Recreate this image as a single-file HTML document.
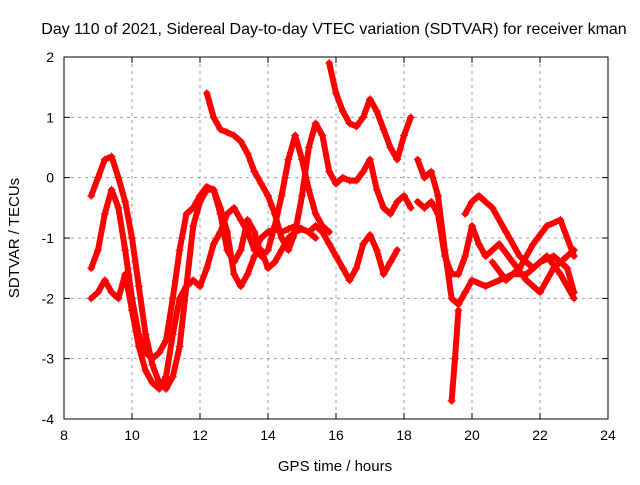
<!DOCTYPE html>
<html><head><meta charset="utf-8"><style>
body{margin:0;background:#fff;width:640px;height:480px;overflow:hidden;font-family:"Liberation Sans",sans-serif}
</style></head><body>
<svg width="640" height="480" style="font-family:'Liberation Sans',sans-serif">
<rect width="640" height="480" fill="#fff"/>
<text x="334" y="34" font-size="16" text-anchor="middle">Day 110 of 2021, Sidereal Day-to-day VTEC variation (SDTVAR) for receiver kman</text>
<text x="335" y="471" font-size="15" text-anchor="middle">GPS time / hours</text>
<text transform="translate(19,238) rotate(-90)" font-size="15" text-anchor="middle">SDTVAR / TECUs</text>
<g id="grid"></g><g id="ticks"></g><g id="series"></g>
<rect x="64" y="57" width="544" height="362" fill="none" stroke="#000" stroke-width="1"/>
</svg>
<script>
const xTicks=[8,10,12,14,16,18,20,22,24];
const yTicks=[-4,-3,-2,-1,0,1,2];
const t1x=[8.8,9.0,9.2,9.4,9.6,9.8,10.0,10.2,10.4,10.6,10.8,11.0,11.2,11.4,11.6,11.8,12.0,12.2,12.4,12.6,12.8,13.0,13.2,13.4,13.6,13.8,14.0,14.2,14.4,14.6,14.8,15.0,15.2,15.4,15.6,15.8];
const t1y=[-0.3,0.0,0.3,0.35,0.0,-0.4,-1.0,-1.8,-2.6,-3.1,-3.4,-3.5,-3.3,-2.8,-1.8,-0.8,-0.4,-0.2,-0.2,-0.6,-1.2,-1.4,-1.2,-0.7,-0.9,-1.3,-1.2,-0.8,-0.3,0.3,0.7,0.3,-0.2,-0.6,-0.8,-0.9];
const t2x=[8.8,9.0,9.2,9.4,9.6,9.8,10.0,10.2,10.4,10.6,10.8,11.0,11.2,11.4,11.6,11.8,12.0,12.2,12.4,12.6,12.8,13.0,13.2,13.4,13.6,13.8,14.0,14.2,14.4,14.6,14.8,15.0,15.2,15.4,15.6,15.8,16.0,16.2,16.4,16.6,16.8,17.0,17.2,17.4,17.6,17.8];
const t2y=[-1.5,-1.2,-0.6,-0.2,-0.5,-1.2,-2.0,-2.6,-2.9,-3.0,-2.9,-2.7,-2.0,-1.2,-0.6,-0.5,-0.3,-0.15,-0.2,-0.5,-0.9,-1.6,-1.8,-1.6,-1.3,-1.2,-1.5,-1.4,-1.2,-1.0,-0.9,-0.85,-0.9,-0.8,-0.9,-1.1,-1.3,-1.5,-1.7,-1.5,-1.1,-0.95,-1.2,-1.6,-1.4,-1.2];
const t3x=[8.8,9.0,9.2,9.4,9.6,9.8,10.0,10.2,10.4,10.6,10.8,11.0,11.2,11.4,11.6,11.8,12.0,12.2,12.4,12.6,12.8,13.0,13.2,13.4,13.6,13.8,14.0,14.2,14.4,14.6,14.8,15.0,15.2,15.4];
const t3y=[-2.0,-1.9,-1.7,-1.9,-2.0,-1.6,-2.2,-2.8,-3.2,-3.4,-3.5,-3.3,-2.6,-2.0,-1.8,-1.7,-1.8,-1.5,-1.1,-0.9,-0.6,-0.5,-0.7,-0.9,-1.2,-1.0,-0.9,-0.85,-0.9,-0.85,-0.8,-0.85,-0.9,-1.0];
const t4x=[12.2,12.4,12.6,12.8,13.0,13.2,13.4,13.6,13.8,14.0,14.2,14.4,14.6,14.8,15.0,15.2,15.4,15.6,15.8,16.0,16.2,16.4,16.6,16.8,17.0,17.2,17.4,17.6,17.8,18.0,18.2];
const t4y=[1.4,1.0,0.8,0.75,0.7,0.6,0.4,0.1,-0.1,-0.3,-0.6,-1.0,-1.2,-0.9,-0.3,0.5,0.9,0.7,0.1,-0.1,0.0,-0.05,-0.05,0.1,0.3,-0.2,-0.5,-0.6,-0.4,-0.3,-0.5];
const t5x=[15.8,16.0,16.2,16.4,16.6,16.8,17.0,17.2,17.4,17.6,17.8,18.0,18.2];
const t5y=[1.9,1.4,1.1,0.9,0.85,1.0,1.3,1.1,0.8,0.5,0.3,0.7,1.0];
const t6x=[18.4,18.6,18.8,19.0,19.2,19.4,19.6,19.8,20.0,20.4,20.8,21.2,21.6,22.0,22.4,22.8,23.0];
const t6y=[0.3,0.0,0.1,-0.3,-1.2,-2.0,-2.1,-1.9,-1.7,-1.8,-1.7,-1.6,-1.6,-1.4,-1.3,-1.5,-1.9];
const t7x=[18.4,18.6,18.8,19.0,19.2,19.4,19.6,19.8,20.0,20.2,20.4,20.8,21.2,21.6,22.0,22.4,22.8,23.0];
const t7y=[-0.4,-0.5,-0.4,-0.6,-1.3,-1.6,-1.6,-1.3,-0.8,-1.1,-1.3,-1.1,-1.4,-1.7,-1.9,-1.5,-1.3,-1.2];
const t8x=[19.4,19.5,19.6];
const t8y=[-3.7,-3.0,-2.2];
const t9x=[19.8,20.0,20.2,20.6,21.0,21.4,21.8,22.2,22.6,23.0];
const t9y=[-0.6,-0.4,-0.3,-0.5,-0.9,-1.3,-1.5,-1.3,-1.6,-2.0];
const t10x=[20.6,21.0,21.4,21.8,22.2,22.6,23.0];
const t10y=[-1.4,-1.7,-1.5,-1.1,-0.8,-0.7,-1.3];
const seriesX=[t1x,t2x,t3x,t4x,t5x,t6x,t7x,t8x,t9x,t10x];
const seriesY=[t1y,t2y,t3y,t4y,t5y,t6y,t7y,t8y,t9y,t10y];

const NS="http://www.w3.org/2000/svg";
const X0=64,X1=608,Y0=419,Y1=57;
const sx=v=>X0+(v-8)/(24-8)*(X1-X0);
const sy=v=>Y0-(v+4)/6*(Y0-Y1);
const grid=document.getElementById('grid'),ticks=document.getElementById('ticks'),ser=document.getElementById('series');
function mk(tag,attrs,parent){const e=document.createElementNS(NS,tag);for(const k in attrs)e.setAttribute(k,attrs[k]);parent.appendChild(e);return e;}
xTicks.forEach(t=>{
  const x=sx(t);
  if(t>8&&t<24){const g=mk('line',{x1:x,x2:x,y1:Y1,y2:Y0,stroke:'#a0a0a0','stroke-dasharray':'3,4'},grid);
  
  }
  const tk=mk('path',{d:`M${x},${Y0}v-6M${x},${Y1}v6`,stroke:'#000'},ticks);
  
  
  const l=mk('text',{x:x,y:Y0+21,'font-size':14,'text-anchor':'middle'},ticks);l.textContent=t;
  
  
});
yTicks.forEach(t=>{
  const y=sy(t);
  if(t>-4&&t<2){const g=mk('line',{x1:X0,x2:X1,y1:y,y2:y,stroke:'#a0a0a0','stroke-dasharray':'3,4'},grid);
  
  }
  const tk=mk('path',{d:`M${X0},${y}h6M${X1},${y}h-6`,stroke:'#000'},ticks);
  
  
  const l=mk('text',{x:X0-10,y:y+5,'font-size':14,'text-anchor':'end'},ticks);l.textContent=t;
  
  
});
seriesX.forEach((xs,i)=>{
  const ys=seriesY[i];
  const pts=xs.map((x,j)=>sx(x)+','+sy(ys[j])).join(' ');
  const pl=mk('polyline',{points:pts,fill:'none',stroke:'#ff0000','stroke-width':6,'stroke-linejoin':'round','stroke-linecap':'round'},ser);
  
  
  let d='';
  xs.forEach((x,j)=>{const px=sx(x),py=sy(ys[j]);d+=`M${px-4},${py}h8M${px},${py-4}v8`;});
  const m=mk('path',{d:d,stroke:'#ff0000','stroke-width':1},ser);
  
  
});
</script>
</body></html>
